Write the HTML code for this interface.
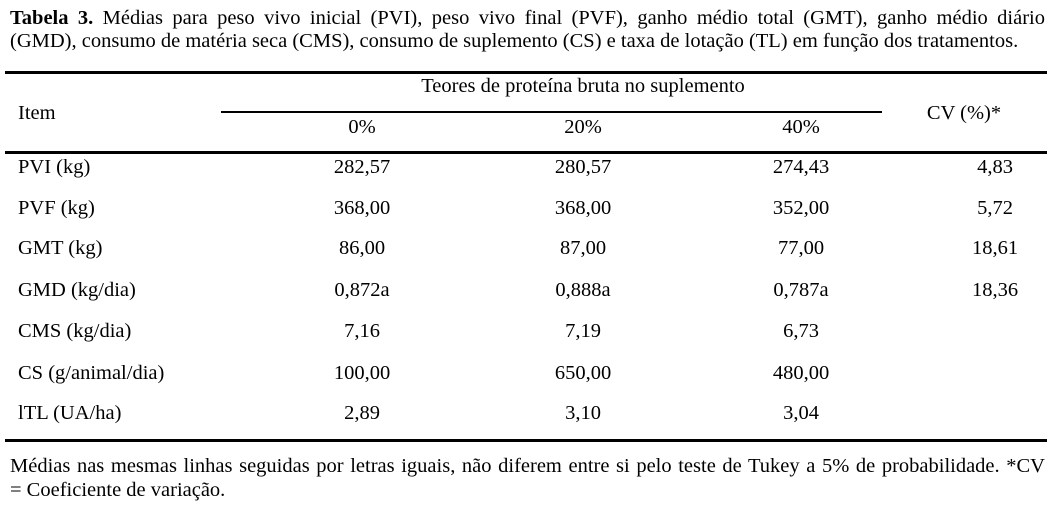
<!DOCTYPE html>
<html><head><meta charset="utf-8"><style>
body{margin:0;width:1059px;height:512px;background:#fff;position:relative;overflow:hidden;font-family:"Liberation Serif",serif;color:#000;font-size:20.5px}
.t{position:absolute;white-space:nowrap;line-height:1}
.c{transform:translateX(-50%)}
.r{position:absolute;background:#000}
.j{position:absolute;left:10px;width:1035px;text-align:justify;text-align-last:justify;white-space:nowrap;line-height:1}
</style></head><body>
<div class="j" style="top:8px"><b>Tabela 3.</b> Médias para peso vivo inicial (PVI), peso vivo final (PVF), ganho médio total (GMT), ganho médio diário</div>
<div class="t" style="left:10px;top:31px">(GMD), consumo de matéria seca (CMS), consumo de suplemento (CS) e taxa de lotação (TL) em função dos tratamentos.</div>
<div class="r" style="left:5px;top:71px;width:1042px;height:3px"></div>
<div class="t c" style="left:583px;top:76px">Teores de proteína bruta no suplemento</div>
<div class="r" style="left:221px;top:111px;width:661px;height:2px"></div>
<div class="t" style="left:18px;top:103px">Item</div>
<div class="t c" style="left:964px;top:103px">CV (%)*</div>
<div class="t c" style="left:362px;top:117px">0%</div>
<div class="t c" style="left:583px;top:117px">20%</div>
<div class="t c" style="left:801px;top:117px">40%</div>
<div class="r" style="left:5px;top:151px;width:1042px;height:3px"></div>
<div id="rows"></div>
<div class="r" style="left:5px;top:439px;width:1042px;height:3px"></div>
<div class="j" style="top:456px">Médias nas mesmas linhas seguidas por letras iguais, não diferem entre si pelo teste de Tukey a 5% de probabilidade. *CV</div>
<div class="t" style="left:10px;top:480px">= Coeficiente de variação.</div>
<script>
const items=["PVI (kg)","PVF (kg)","GMT (kg)","GMD (kg/dia)","CMS (kg/dia)","CS (g/animal/dia)","lTL (UA/ha)"];
const v0=["282,57","368,00","86,00","0,872a","7,16","100,00","2,89"];
const v20=["280,57","368,00","87,00","0,888a","7,19","650,00","3,10"];
const v40=["274,43","352,00","77,00","0,787a","6,73","480,00","3,04"];
const cv=["4,83","5,72","18,61","18,36","","",""];
const tops=[157,198,238,280,321,363,403];
const host=document.getElementById('rows');
function cell(txt,x,y,center){const d=document.createElement('div');d.className='t'+(center?' c':'');d.style.left=x+'px';d.style.top=y+'px';d.textContent=txt;host.appendChild(d);return d;}
items.forEach((it,i)=>{
 const y=tops[i];
 let e=cell(it,18,y,false);
 
 
 e=cell(v0[i],362,y,true);
 
 
 e=cell(v20[i],583,y,true);
 
 
 e=cell(v40[i],801,y,true);
 
 
 if(cv[i]){e=cell(cv[i],995,y,true);
 
 }
});
</script>
</body></html>
